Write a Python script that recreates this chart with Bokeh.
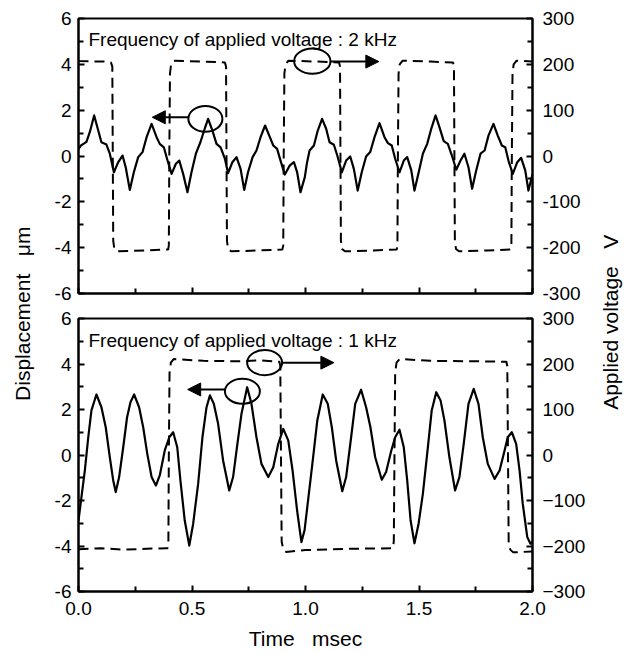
import math
from bokeh.plotting import figure
from bokeh.models import Range1d, LinearAxis, FixedTicker, Label, Arrow, NormalHead
from bokeh.layouts import row, column
from bokeh.embed import file_html
from bokeh.resources import INLINE

FONT = "Liberation Sans"
NB = "\u00a0"

# ---------------- data ----------------
# Top panel (2 kHz): displacement (um) vs time (msec)
t_top = [0.000, 0.010, 0.035, 0.050, 0.069, 0.087, 0.101, 0.123, 0.138, 0.156,
         0.175, 0.194, 0.208, 0.226, 0.244, 0.263, 0.282, 0.300, 0.322, 0.344,
         0.358, 0.376, 0.390, 0.410, 0.429, 0.444, 0.461, 0.480, 0.498, 0.517,
         0.537, 0.556, 0.571, 0.590, 0.608, 0.626, 0.645, 0.659, 0.678, 0.696,
         0.714, 0.730, 0.747, 0.767, 0.784, 0.802, 0.822, 0.843, 0.858, 0.875,
         0.890, 0.909, 0.931, 0.949, 0.963, 0.978, 0.997, 1.007, 1.018, 1.037,
         1.054, 1.073, 1.091, 1.106, 1.125, 1.140, 1.160, 1.179, 1.197, 1.213,
         1.230, 1.248, 1.267, 1.285, 1.304, 1.326, 1.348, 1.363, 1.380, 1.395,
         1.414, 1.433, 1.448, 1.466, 1.480, 1.499, 1.517, 1.536, 1.554, 1.573,
         1.590, 1.609, 1.627, 1.645, 1.664, 1.683, 1.700, 1.718, 1.734, 1.752,
         1.771, 1.789, 1.806, 1.828, 1.847, 1.865, 1.880, 1.894, 1.913, 1.933,
         1.950, 1.968, 1.982, 2.000]
d_top = [0.30, 0.45, 0.62, 1.05, 1.77, 1.11, 0.60, 0.50, 0.10, -0.71,
         -0.27, 0.02, -0.49, -1.48, -0.70, -0.05, 0.17, 0.82, 1.40, 0.82,
         0.53, 0.38, -0.12, -0.78, -0.34, -0.20, -0.78, -1.58, -0.70, 0.10,
         0.60, 1.19, 1.62, 1.11, 0.53, 0.38, -0.12, -0.75, -0.27, -0.05,
         -0.56, -1.48, -0.70, -0.05, 0.24, 0.82, 1.33, 0.82, 0.46, 0.31,
         -0.20, -0.81, -0.41, -0.27, -0.70, -1.58, -0.92, -0.27, 0.24, 0.46,
         1.11, 1.62, 1.19, 0.60, 0.49, 0.02, -0.71, -0.20, -0.02, -0.56,
         -1.51, -0.70, -0.02, 0.17, 0.82, 1.43, 0.82, 0.56, 0.46, -0.12,
         -0.71, -0.20, -0.05, -0.63, -1.51, -0.70, 0.10, 0.53, 1.19, 1.77,
         1.26, 0.65, 0.53, 0.02, -0.60, -0.20, 0.10, -0.49, -1.43, -0.63,
         0.10, 0.24, 0.89, 1.40, 0.89, 0.46, 0.38, -0.20, -0.78, -0.27,
         -0.08, -0.63, -1.51, -0.80]

# Top panel applied voltage (V)
tv_top = [0.000, 0.120, 0.143, 0.149, 0.151, 0.153, 0.158, 0.170, 0.300, 0.395,
          0.398, 0.400, 0.403, 0.408, 0.420, 0.550, 0.645, 0.650, 0.652, 0.654,
          0.659, 0.672, 0.800, 0.898, 0.902, 0.904, 0.907, 0.912, 0.925, 1.050,
          1.148, 1.152, 1.154, 1.156, 1.161, 1.174, 1.300, 1.402, 1.405, 1.407,
          1.410, 1.415, 1.428, 1.550, 1.650, 1.654, 1.656, 1.658, 1.663, 1.676,
          1.800, 1.904, 1.907, 1.909, 1.912, 1.917, 1.930, 2.000]
v_top = [207, 206, 204, 195, 0, -185, -203, -208, -206, -204,
         -195, 0, 180, 200, 208, 206, 204, 195, 0, -185,
         -203, -208, -206, -204, -195, 0, 180, 200, 208, 206,
         204, 195, 0, -185, -203, -208, -206, -204, -195, 0,
         180, 200, 208, 206, 204, 195, 0, -185, -203, -208,
         -206, -204, -195, 0, 180, 200, 208, 206]

# Bottom panel (1 kHz): displacement (um)
t_bot = [0.000, 0.013, 0.028, 0.043, 0.057, 0.079, 0.101, 0.120, 0.138, 0.153,
         0.164, 0.179, 0.197, 0.214, 0.229, 0.245, 0.267, 0.285, 0.303, 0.322,
         0.341, 0.358, 0.380, 0.400, 0.417, 0.435, 0.449, 0.468, 0.488, 0.505,
         0.527, 0.546, 0.564, 0.579, 0.596, 0.615, 0.637, 0.664, 0.681, 0.700,
         0.718, 0.743, 0.762, 0.784, 0.806, 0.836, 0.858, 0.880, 0.902, 0.924,
         0.943, 0.963, 0.982, 0.996, 1.013, 1.032, 1.052, 1.076, 1.098, 1.116,
         1.135, 1.162, 1.179, 1.201, 1.219, 1.245, 1.267, 1.286, 1.307, 1.336,
         1.355, 1.378, 1.395, 1.414, 1.433, 1.448, 1.463, 1.480, 1.498, 1.517,
         1.539, 1.556, 1.576, 1.595, 1.612, 1.634, 1.659, 1.678, 1.697, 1.718,
         1.741, 1.762, 1.781, 1.803, 1.833, 1.855, 1.877, 1.891, 1.909, 1.928,
         1.943, 1.957, 1.977, 1.991, 2.000]
d_bot = [-2.88, -1.85, -0.68, 0.78, 1.96, 2.66, 2.10, 1.22, -0.10, -1.12,
         -1.63, -0.97, 0.34, 1.66, 2.32, 2.66, 2.10, 1.22, 0.05, -0.97,
         -1.34, -0.90, 0.20, 0.78, 1.00, 0.34, -1.12, -2.88, -3.98, -3.03,
         -1.27, 0.78, 2.10, 2.62, 2.25, 1.37, -0.24, -1.56, -0.97, 0.49,
         1.81, 2.98, 2.25, 0.78, -0.39, -0.97, -0.54, 0.49, 1.15, 0.64,
         -0.68, -2.44, -3.83, -3.30, -1.85, -0.24, 1.52, 2.66, 2.25, 1.22,
         -0.24, -1.59, -0.97, 0.78, 2.25, 2.87, 2.10, 1.22, -0.10, -1.09,
         -0.75, 0.20, 0.78, 1.11, 0.34, -1.12, -2.88, -3.88, -3.03, -1.71,
         0.34, 1.96, 2.76, 2.40, 1.52, -0.10, -1.56, -0.97, 0.49, 2.25,
         2.91, 2.25, 0.78, -0.39, -1.05, -0.68, 0.20, 0.78, 1.00, 0.49,
         -0.68, -2.14, -3.61, -3.90, -3.80]

# Bottom panel applied voltage (V)
tv_bot = [0.000, 0.100, 0.200, 0.300, 0.392, 0.396, 0.398, 0.401, 0.407, 0.420,
          0.550, 0.700, 0.800, 0.885, 0.889, 0.892, 0.895, 0.902, 0.915, 1.000,
          1.200, 1.385, 1.389, 1.392, 1.395, 1.401, 1.415, 1.550, 1.750, 1.885,
          1.889, 1.892, 1.895, 1.902, 1.915, 2.000]
v_bot = [-207, -205, -208, -206, -205, -190, 0, 180, 203, 211,
         207, 206, 208, 205, 195, 0, -190, -208, -213, -209,
         -206, -205, -190, 0, 180, 203, 211, 207, 206, 205,
         195, 0, -190, -208, -214, -212]

# axes
x_ticks = [0.0, 0.5, 1.0, 1.5, 2.0]
x_minor = [0.25, 0.75, 1.25, 1.75]
x_labels = ["0.0", "0.5", "1.0", "1.5", "2.0"]
d_ticks = [-6, -4, -2, 0, 2, 4, 6]
d_minor = [-5, -3, -1, 1, 3, 5]
d_labels = ["-6", "-4", "-2", "0", "2", "4", "6"]
v_ticks = [-300, -200, -100, 0, 100, 200, 300]
v_minor = [-250, -150, -50, 50, 150, 250]
v_labels_top = ["-300", "-200", "-100", "0", "100", "200", "300"]
v_labels_bot = ["\u2212300", "\u2212200", "\u2212100", "0", "100", "200", "300"]

titles = ["Frequency of applied voltage : 2 kHz", "Frequency of applied voltage : 1 kHz"]
x_title = "Time" + NB * 3 + "msec"
y_title_left = "Displacement" + NB * 3 + "\u03bcm"
y_title_right = "Applied voltage" + NB * 3 + "V"

# annotation marks: (x, y, width, height) and arrows (x0, y0, x1, y1)
ell_top_d = (0.559, 1.62, 0.15, 1.12)
ell_top_v = (1.03, 207, 0.16, 55)
arr_top_d = (0.484, 1.69, 0.325, 1.69)
arr_top_v = (1.11, 206, 1.323, 206)
ell_bot_d = (0.722, 2.80, 0.154, 1.10)
ell_bot_v = (0.820, 203, 0.154, 55)
arr_bot_d = (0.645, 2.88, 0.481, 2.88)
arr_bot_v = (0.897, 203, 1.125, 203)


def style_axis(ax, ticks, minor, labels, standoff, show_labels=True):
    ax.ticker = FixedTicker(ticks=ticks, minor_ticks=minor)
    ax.major_label_overrides = dict(zip(ticks, labels))
    ax.major_tick_in = 6
    ax.major_tick_out = 0
    ax.minor_tick_in = 5
    ax.minor_tick_out = 0
    ax.axis_line_width = 2
    ax.axis_line_color = "black"
    ax.major_tick_line_width = 2
    ax.minor_tick_line_width = 2
    ax.major_tick_line_color = "black"
    ax.minor_tick_line_color = "black"
    ax.major_label_text_font = FONT
    ax.major_label_standoff = standoff
    if show_labels:
        ax.major_label_text_color = "black"
        ax.major_label_text_font_size = "19px"
    else:
        ax.major_label_text_color = None
        ax.major_label_text_font_size = "1px"


def make_panel(height, top_b, bot_b, t, d, tv, v, title, vlabels, ell_d, ell_v, arr_d, arr_v,
               x_labels_on, title_off):
    p = figure(width=554, height=height, x_range=Range1d(0, 2), y_range=Range1d(-6, 6),
               output_backend="svg", toolbar_location=None, tools="", title=None,
               min_border_left=40, min_border_right=60,
               min_border_top=top_b, min_border_bottom=bot_b)
    p.extra_y_ranges = {"v": Range1d(-300, 300)}
    p.grid.visible = False
    p.outline_line_color = "black"
    p.outline_line_width = 2
    p.background_fill_color = "white"
    p.border_fill_color = "white"

    style_axis(p.xaxis[0], x_ticks, x_minor, x_labels, 10 if x_labels_on else 0, x_labels_on)
    style_axis(p.yaxis[0], d_ticks, d_minor, d_labels, 7)
    vax = LinearAxis(y_range_name="v")
    style_axis(vax, v_ticks, v_minor, vlabels, 10)
    p.add_layout(vax, "right")

    p.line(tv, v, y_range_name="v", line_color="black", line_width=2, line_dash="10 6")
    p.line(t, d, line_color="black", line_width=2.2, line_join="round")

    p.ellipse(x=[ell_d[0]], y=[ell_d[1]], width=[ell_d[2]], height=[ell_d[3]],
              fill_color=None, line_color="black", line_width=2)
    p.ellipse(x=[ell_v[0]], y=[ell_v[1]], width=[ell_v[2]], height=[ell_v[3]],
              fill_color=None, line_color="black", line_width=2, y_range_name="v")
    p.add_layout(Arrow(end=NormalHead(size=13, fill_color="black", line_color="black"),
                       x_start=arr_d[0], y_start=arr_d[1], x_end=arr_d[2], y_end=arr_d[3],
                       line_width=2, line_color="black"))
    p.add_layout(Arrow(end=NormalHead(size=13, fill_color="black", line_color="black"),
                       x_start=arr_v[0], y_start=arr_v[1], x_end=arr_v[2], y_end=arr_v[3],
                       line_width=2, line_color="black", y_range_name="v"))
    p.add_layout(Label(x=0.044, y=6, y_offset=title_off, text=title, text_font=FONT,
                       text_font_size="19px", text_color="black", text_baseline="alphabetic",
                       text_align="left"))
    return p


# page rows: top panel 0-305 (frame 18-293), bottom panel 305-654 (frame 318-591)
top = make_panel(305, 18, 12, t_top, d_top, tv_top, v_top, titles[0], v_labels_top,
                 ell_top_d, ell_top_v, arr_top_d, arr_top_v, False, -21)
bot = make_panel(349, 13, 63, t_bot, d_bot, tv_bot, v_bot, titles[1], v_labels_bot,
                 ell_bot_d, ell_bot_v, arr_bot_d, arr_bot_v, True, -22)
xa = bot.xaxis[0]
xa.axis_label = x_title
xa.axis_label_text_font = FONT
xa.axis_label_text_font_size = "21px"
xa.axis_label_text_font_style = "normal"
xa.axis_label_text_color = "black"
xa.axis_label_standoff = 9


def label_fig(width, xfrac, yfrac, text):
    f = figure(width=width, height=654, x_range=Range1d(0, 1), y_range=Range1d(0, 1),
               output_backend="svg", toolbar_location=None, tools="", title=None,
               x_axis_type=None, y_axis_type=None, min_border=0)
    f.grid.visible = False
    f.outline_line_color = None
    f.add_layout(Label(x=xfrac, y=yfrac, text=text, angle=math.pi / 2, text_font=FONT,
                       text_font_size="21px", text_color="black", text_align="center",
                       text_baseline="middle"))
    return f


left = label_fig(38, 0.579, 0.521, y_title_left)
right = label_fig(36, 0.5, 0.508, y_title_right)

layout = row(left, column(top, bot), right)
open("out.html", "w").write(file_html(layout, INLINE))
